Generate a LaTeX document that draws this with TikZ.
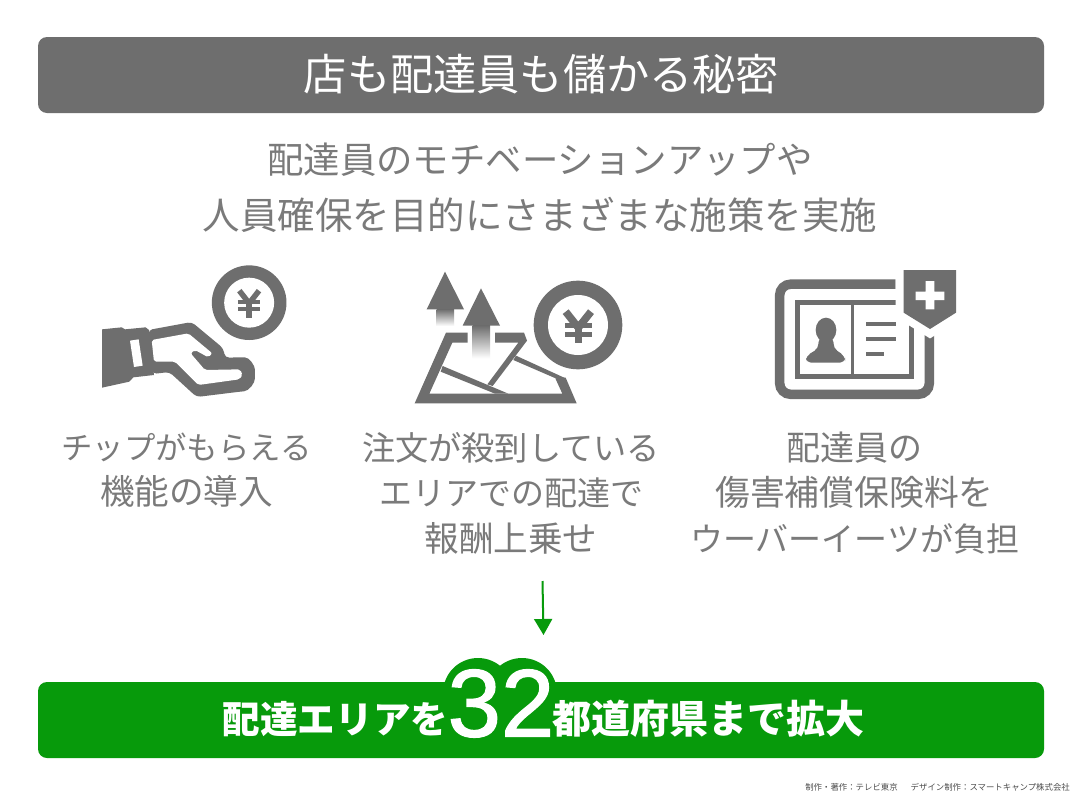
\documentclass[tikz,border=0pt]{standalone}
\usepackage{fontspec}
\setmainfont{Noto Sans CJK JP}
\newfontfamily\numfont[FakeBold=1.3]{Liberation Sans}
\usetikzlibrary{arrows.meta}
\definecolor{bargray}{HTML}{6E6E6E}
\definecolor{icongray}{HTML}{6E6E6E}
\definecolor{textgray}{HTML}{7A7A7A}
\definecolor{barh}{HTML}{079A0B}
\newcommand{\fs}[1]{\fontsize{#1}{45.5}\selectfont}
\newcommand{\fsb}[1]{\fontsize{#1}{56}\selectfont}
\tikzset{
  bar/.style={fill=#1,draw=none,rounded corners=9pt},
  sub/.style={text=textgray,font=\fontsize{36}{56}\selectfont,inner sep=0,align=center},
  lab/.style={text=textgray,font=\fontsize{33}{45.5}\selectfont,inner sep=0,align=center},
  ban/.style={text=white,inner sep=0,anchor=base},
  ico/.style={fill=icongray,draw=none},
  icl/.style={draw=icongray,fill=none},
  hole/.style={fill=white,draw=none}
}
\begin{document}
\begin{tikzpicture}[x=1pt,y=-1pt]
\useasboundingbox (0,0) rectangle (1080,801);
\fill[white] (0,0) rectangle (1080,801);
% title
\fill[bar=bargray] (38,37) rectangle (1044,113);
\node[text=white,inner sep=0,anchor=base,font=\fontsize{43.2}{50}\selectfont] (title) at (541.5,90) {店も配達員も儲かる秘密};
\node[sub] (subtitle) at (540,188) {\fsb{36.4}配達員のモチベーションアップや\\\fsb{37.5}人員確保を目的にさまざまな施策を実施};
% hand icon
\begin{scope}[shift={(80,250)},scale=1/3]
\fill[ico] (66,238)--(125,232)--(135,238)--(197,232)--(207,240)--(222,375)--(160,382)--(148,395)--(66,413)--cycle;
\fill[hole] (150,272)--(176,268)--(188,347)--(162,351)--cycle;
\fill[ico,rounded corners=4pt] (205,240)--(335,216)--(430,295)--(435,323)--(482,322) to[out=0,in=90] (525,372) to[out=-90,in=5] (480,425)--(350,441)--(268,366)--(218,372)--cycle;
\fill[hole,rounded corners=2pt] (215,270)--(325,250)--(397,310)--(385,322)--(345,300)--(332,310)--(375,360)--(480,358)--(488,375)--(478,388)--(355,405)--(285,335)--(222,335)--cycle;
\fill[ico] (507.5,158) circle[radius=112];
\fill[hole] (507.5,158) circle[radius=75];
\draw[icl,line width=5.5pt] (478,122)--(507.5,160)--(537,122);
\draw[icl,line width=3.5pt] (474,156)--(541,156) (474,177)--(541,177);
\draw[icl,line width=6pt] (507.5,158)--(507.5,205);
\end{scope}
% map icon
\begin{scope}[shift={(400,250)},scale=1/3]
\fill[ico] (135,65)--(192,178)--(80,178)--cycle;
\shade[top color=icongray,bottom color=white] (110,178) rectangle (162,228);
\fill[ico] (243,115)--(300,227)--(188,227)--cycle;
\shade[top color=icongray,bottom color=white] (218,227) rectangle (270,325);
\fill[ico] (138,248)--(203,248)--(203,278)--(157,278)--(88,431)--(487,431)--(466,385)--(497,383)--(530,460)--(44,460)--cycle;
\fill[ico] (285,248)--(372,248)--(381,272)--(278,408)--(262,403)--(355,278)--(285,278)--cycle;
\fill[ico] (128,348)--(325,431)--(285,431)--(122,365)--cycle;
\fill[ico] (348,317)--(497,385)--(497,398)--(340,330)--cycle;
\fill[ico] (534,225) circle[radius=133];
\fill[hole] (534,225) circle[radius=90];
\draw[icl,line width=7.5pt] (497,185)--(535,233)--(573,185);
\draw[icl,line width=4.5pt] (495,227)--(575,227) (495,253)--(575,253);
\draw[icl,line width=7.5pt] (535,230)--(535,280);
\end{scope}
% id card icon
\begin{scope}[shift={(750,250)},scale=1/3]
\draw[icl,line width=9.5pt,rounded corners=11pt] (437,102.5)--(89,102.5)--(89,433)--(538,433)--(538,240);
\draw[icl,line width=5pt] (437,157)--(142,157)--(142,379)--(483,379)--(483,225);
\draw[icl,line width=3pt] (307,157)--(307,379);
\draw[icl,line width=4.3pt] (348,223)--(438,223) (348,268)--(438,268) (348,312)--(402,312);
\fill[ico] (228,240) ellipse[x radius=31,y radius=37];
\fill[ico,rounded corners=5pt] (205,262)--(251,262)--(250,295)--(285,318)--(285,338)--(168,338)--(168,318)--(206,295)--cycle;
\draw[white,fill=white,line width=16pt,line join=miter] (461,60)--(618,60)--(618,188)--(540,237)--(461,188)--cycle;
\fill[icongray] (461,60)--(618,60)--(618,188)--(540,237)--(461,188)--cycle;
\fill[hole] (497,125) rectangle (583,150) (527,93) rectangle (553,178);
\end{scope}
% labels
\node[lab] (labA) at (186.5,470) {\fs{31.4}チップがもらえる\\\fs{34.6}機能の導入};
\node[lab] (labB) at (511,493) {\fs{33.2}注文が殺到している\\\fs{33}エリアでの配達で\\\fs{34.6}報酬上乗せ};
\node[lab] (labC) at (854.5,493) {\fs{34}配達員の\\\fs{34.8}傷害補償保険料を\\\fs{33}ウーバーイーツが負担};
% arrow
\coordinate (arrowfrom) at (542.5,581);
\coordinate (arrowto) at (543.5,635);
\draw[barh,line width=2pt,-{Triangle[width=18pt,length=16pt]}] (arrowfrom) -- (arrowto);
% banner
\fill[bar=barh] (38,682) rectangle (1044,758);
\fill[barh] (478,693) circle[radius=35] (522,693) circle[radius=35];
\node[ban,font=\bfseries\fontsize{37.6}{44}\selectfont] (banA) at (335.5,733) {配達エリアを};
\node[ban,font=\numfont\fontsize{96}{100}\selectfont] (banN) at (501,736.5) {32};
\node[ban,font=\bfseries\fontsize{39}{44}\selectfont] (banB) at (708.5,733) {都道府県まで拡大};
% credit
\node[text=black!70,inner sep=0,anchor=base east,font=\fontsize{8.4}{10}\selectfont] (credit) at (1070,790) {制作・著作：テレビ東京\hspace{13pt}デザイン制作：スマートキャンプ株式会社};
\end{tikzpicture}
\end{document}
